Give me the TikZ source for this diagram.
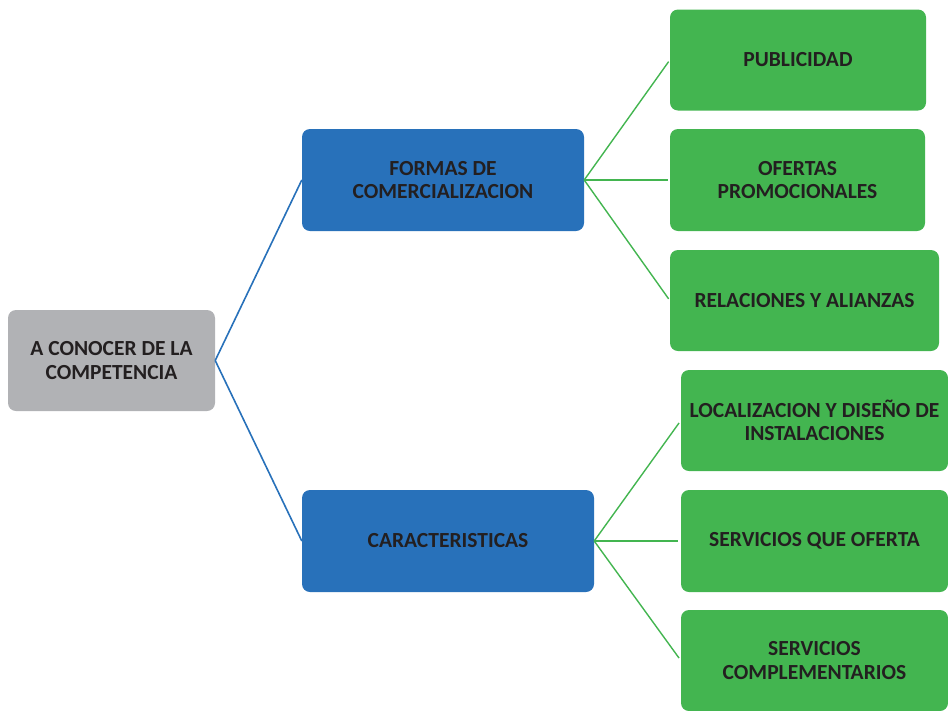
\documentclass[tikz,border=0pt]{standalone}
\usepackage{fontspec}
\setmainfont{Carlito}
\definecolor{boxgray}{RGB}{177,178,181}
\definecolor{boxblue}{RGB}{40,113,186}
\definecolor{boxgreen}{RGB}{67,181,80}
\definecolor{inktext}{RGB}{35,31,32}
\tikzset{
  box/.style={rounded corners=8pt, inner sep=0pt, align=center, text=inktext,
    font=\fontsize{21.5}{23.5}\selectfont\bfseries},
  graybox/.style={box, fill=boxgray},
  bluebox/.style={box, fill=boxblue},
  greenbox/.style={box, fill=boxgreen},
  blueline/.style={draw=boxblue, line width=1.6pt},
  greenline/.style={draw=boxgreen, line width=1.4pt, shorten >=2pt},
}
\begin{document}
\begin{tikzpicture}[x=1pt, y=-1pt]
\useasboundingbox (0,0) rectangle (948,710);
\clip (0,0) rectangle (948,710);

% root
\node[graybox, minimum width=207pt, minimum height=101pt] (root) at (111.5,360.5)
  {A CONOCER DE LA\\COMPETENCIA};

% second level
\node[bluebox, minimum width=282pt, minimum height=102pt] (formas) at (443,180)
  {FORMAS DE\\COMERCIALIZACION};
\node[bluebox, minimum width=292pt, minimum height=102pt] (carac) at (448,541)
  {CARACTERISTICAS};

% leaves
\node[greenbox, minimum width=256pt, minimum height=101pt] (publi) at (798,60)
  {PUBLICIDAD};
\node[greenbox, minimum width=255pt, minimum height=102pt] (ofertas) at (797.5,180)
  {OFERTAS\\PROMOCIONALES};
\node[greenbox, minimum width=269pt, minimum height=101pt] (relac) at (804.5,300.5)
  {RELACIONES Y ALIANZAS};
\node[greenbox, minimum width=267pt, minimum height=101pt] (local) at (814.5,420.5)
  {LOCALIZACION Y DISEÑO DE\\INSTALACIONES};
\node[greenbox, minimum width=267pt, minimum height=102pt] (serv) at (814.5,541)
  {SERVICIOS QUE OFERTA};
\node[greenbox, minimum width=267pt, minimum height=101pt] (compl) at (814.5,660.5)
  {SERVICIOS\\COMPLEMENTARIOS};

% connectors
\draw[blueline] (root.east) -- (formas.west);
\draw[blueline] (root.east) -- (carac.west);

\draw[greenline] (formas.east) -- (publi.west);
\draw[greenline] (formas.east) -- (ofertas.west);
\draw[greenline] (formas.east) -- (relac.west);

\draw[greenline, shorten >=3pt] (carac.east) -- (local.west);
\draw[greenline, shorten >=3pt] (carac.east) -- (serv.west);
\draw[greenline, shorten >=3pt] (carac.east) -- (compl.west);
\end{tikzpicture}
\end{document}
